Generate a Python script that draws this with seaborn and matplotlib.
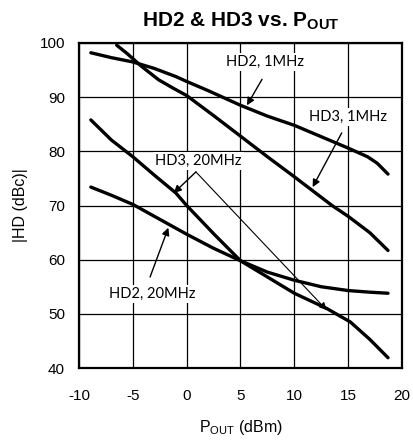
import numpy as np
import pandas as pd
import matplotlib
matplotlib.use('Agg')
import matplotlib.pyplot as plt
import seaborn as sns

# curves (POUT in dBm, |HD| in dBc)
hd2_1mhz_x = [-8.9, -7, -5, -3, -1, 0, 2, 5, 7.5, 10, 12.5, 15, 16.8, 17.7, 18.7]
hd2_1mhz_y = [98.2, 97.3, 96.5, 95.3, 93.8, 92.9, 91.2, 88.5, 86.5, 84.8, 82.7, 80.6, 79.0, 77.8, 75.8]

hd3_1mhz_x = [-6.5, -5.5, -4.2, -2.6, -1.2, 0, 2.5, 5, 7.5, 10, 13.5, 15, 17, 18.7]
hd3_1mhz_y = [99.6, 98.0, 95.7, 93.2, 91.6, 90.3, 86.6, 82.8, 79.0, 75.3, 70.0, 68.0, 65.0, 61.7]

hd3_20mhz_x = [-8.9, -7, -5, -3, -1, 0, 2.5, 5, 7.5, 10, 13, 15.2, 17, 18.7]
hd3_20mhz_y = [85.8, 82.1, 79.0, 75.6, 72.3, 70.0, 64.8, 59.8, 56.8, 53.8, 51.0, 48.5, 45.3, 41.9]

hd2_20mhz_x = [-8.9, -7, -5, -3, -1, 0, 2.5, 5, 7.5, 10, 12.5, 15, 17, 18.7]
hd2_20mhz_y = [73.4, 71.9, 70.2, 68.0, 65.8, 64.7, 62.1, 59.8, 57.7, 56.2, 55.0, 54.3, 54.0, 53.8]

x_ticks = [-10, -5, 0, 5, 10, 15, 20]
y_ticks = [40, 50, 60, 70, 80, 90, 100]

frames = []
for name, xs, ys in [('HD2, 1MHz', hd2_1mhz_x, hd2_1mhz_y),
                     ('HD3, 1MHz', hd3_1mhz_x, hd3_1mhz_y),
                     ('HD3, 20MHz', hd3_20mhz_x, hd3_20mhz_y),
                     ('HD2, 20MHz', hd2_20mhz_x, hd2_20mhz_y)]:
    frames.append(pd.DataFrame({'series': name, 'pout': xs, 'hd': ys}))
df = pd.concat(frames, ignore_index=True)

sns.set_theme(style='white')
plt.rcParams['font.family'] = ['Liberation Sans', 'DejaVu Sans']
plt.rcParams['axes.unicode_minus'] = False
plt.rcParams['text.color'] = 'black'
plt.rcParams['axes.labelcolor'] = 'black'

fig = plt.figure(figsize=(4.14, 4.40), dpi=100)
ax = fig.add_axes([79 / 414, 72 / 440, 323 / 414, 325 / 440])

sns.lineplot(data=df, x='pout', y='hd', hue='series', palette=['black'] * 4,
             sort=False, estimator=None, legend=False, linewidth=2.4, ax=ax)

ax.set_xlim(-10, 20)
ax.set_ylim(40, 100)
ax.set_xticks(x_ticks)
ax.set_yticks(y_ticks)
ax.grid(True, color='black', linewidth=0.9)
ax.set_axisbelow(True)
for sp in ax.spines.values():
    sp.set_color('black')
    sp.set_linewidth(1.6)
ax.tick_params(axis='both', length=0, labelsize=11, colors='black')
ax.tick_params(axis='x', pad=15)
ax.tick_params(axis='y', pad=10)

ax.set_title(r'HD2 & HD3 vs. P$_\mathregular{OUT}$', fontsize=15,
             fontweight='bold', pad=12)
ax.set_xlabel(r'P$_\mathregular{OUT}$ (dBm)', fontsize=11.5, labelpad=11)
ax.set_ylabel('|HD (dBc)|', fontsize=11.5, labelpad=8)

# annotations
note_font = dict(fontsize=10.5, family=['Lato', 'DejaVu Sans'], ha='center', va='center',
                 bbox=dict(facecolor='white', edgecolor='none', pad=1.5))
arrow = dict(arrowstyle='-|>', color='black', lw=1.0, mutation_scale=11,
             shrinkA=0, shrinkB=0)

ax.text(7.3, 96.5, 'HD2, 1MHz', **note_font)
ax.annotate('', xy=(5.6, 88.5), xytext=(7.0, 93.3), arrowprops=arrow)

ax.text(15.0, 86.3, 'HD3, 1MHz', **note_font)
ax.annotate('', xy=(11.7, 73.4), xytext=(14.4, 83.4), arrowprops=arrow)

ax.text(1.1, 78.2, 'HD3, 20MHz', **note_font)
ax.annotate('', xy=(-1.2, 72.3), xytext=(0.86, 76.2), arrowprops=arrow)
ax.annotate('', xy=(13.0, 50.7), xytext=(0.86, 76.2),
            arrowprops=dict(arrow, lw=0.8))

ax.text(-3.2, 53.7, 'HD2, 20MHz', **note_font)
ax.annotate('', xy=(-1.7, 65.9), xytext=(-3.4, 56.8), arrowprops=arrow)

fig.savefig('out.png', dpi=100)
